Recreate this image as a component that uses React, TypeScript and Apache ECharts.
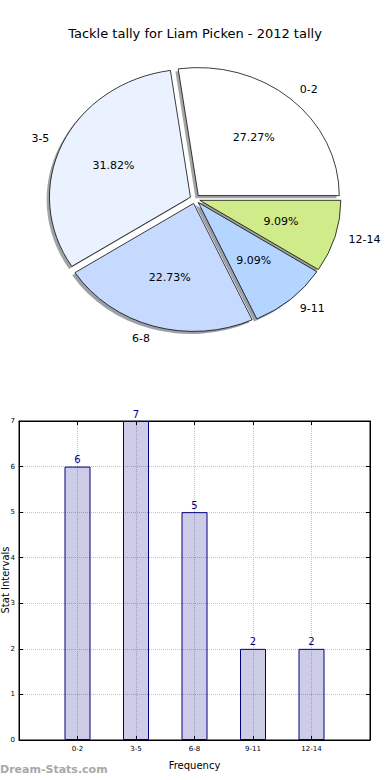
import React, { useEffect, useRef } from "react";
import * as echarts from "echarts";

const categories = ["0-2", "3-5", "6-8", "9-11", "12-14"];
const counts = [6, 7, 5, 2, 2];
const pieColors = ["#ffffff", "#eaf2ff", "#c6d9ff", "#b3d5ff", "#d0eb8a"];
const titleText = "Tackle tally for Liam Picken - 2012 tally";

export default function App() {
  const ref = useRef<HTMLDivElement>(null);
  useEffect(() => {
    document.body.style.margin = "0";
    const chart = echarts.init(ref.current!, null, { renderer: "svg" });
    const total = counts.reduce((a, b) => a + b, 0);
    let acc = 0;
    const pieData = counts.map((v, i) => {
      const s = (acc / total) * 360;
      acc += v;
      const e = (acc / total) * 360;
      return [v, s, e, i];
    });
    const cx = 195, cy = 199, rx = 141, ry = 128, d = 5;
    const shade = (hex: string) => {
      const n = parseInt(hex.slice(1), 16);
      const r = Math.round(((n >> 16) & 255) * 0.3);
      const g = Math.round(((n >> 8) & 255) * 0.3);
      const b = Math.round((n & 255) * 0.3);
      return `rgba(${r},${g},${b},0.5)`;
    };
    const tickStyle = { show: true, inside: true, length: 4, lineStyle: { color: "#000" } };
    const lineStyle = { show: true, onZero: false, lineStyle: { color: "#000" } };
    const gridLine = { show: true, lineStyle: { color: "#c4c4c4", type: "dotted" } };
    const option: any = {
      animation: false,
      textStyle: { fontFamily: "DejaVu Sans" },
      title: {
        text: titleText,
        left: "center",
        top: 22,
        textStyle: { fontSize: 13, fontWeight: "normal", color: "#000", fontFamily: "DejaVu Sans" },
      },
      graphic: [
        {
          type: "text",
          left: 0,
          top: 764,
          style: { text: "Dream-Stats.com", fill: "#a8a8a8", fontSize: 11, fontWeight: "bold", fontFamily: "DejaVu Sans" },
        },
        {
          type: "text",
          x: 5,
          y: 580,
          rotation: Math.PI / 2,
          style: { text: "Stat Intervals", fill: "#000", fontSize: 10, align: "center", verticalAlign: "middle", fontFamily: "DejaVu Sans" },
        },
      ],
      grid: {
        left: 19,
        right: 20,
        top: 421,
        bottom: 40,
        show: true,
        borderColor: "#000",
        borderWidth: 1,
        containLabel: false,
        outerBoundsMode: "none",
      },
      xAxis: [
        {
          type: "value",
          min: -1,
          max: 5,
          interval: 1,
          axisLine: lineStyle,
          axisTick: tickStyle,
          axisLabel: {
            formatter: (v: number) => categories[v] ?? "",
            fontSize: 7,
            color: "#000",
            margin: 5,
          },
          splitLine: gridLine,
          name: "Frequency",
          nameLocation: "middle",
          nameGap: 20,
          nameTextStyle: { fontSize: 10, color: "#000" },
        },
        {
          type: "value",
          position: "top",
          min: -1,
          max: 5,
          interval: 1,
          axisLine: lineStyle,
          axisTick: tickStyle,
          axisLabel: { show: false },
          splitLine: { show: false },
        },
      ],
      yAxis: [
        {
          type: "value",
          min: 0,
          max: 7,
          interval: 1,
          axisLine: lineStyle,
          axisTick: tickStyle,
          axisLabel: { fontSize: 7, color: "#000", margin: 4 },
          splitLine: gridLine,
        },
        {
          type: "value",
          position: "right",
          min: 0,
          max: 7,
          interval: 1,
          axisLine: lineStyle,
          axisTick: tickStyle,
          axisLabel: { show: false },
          splitLine: { show: false },
        },
      ],
      series: [
        {
          type: "bar",
          xAxisIndex: 0,
          yAxisIndex: 0,
          data: counts.map((v, i) => [i, v]),
          barWidth: 26,
          itemStyle: { color: "rgba(0,0,128,0.2)", borderColor: "#000080", borderWidth: 1 },
          label: { show: true, position: "top", color: "#000080", fontSize: 10, distance: 2 },
        },
        {
          type: "custom",
          coordinateSystem: "none",
          data: pieData,
          renderItem: (params: any, api: any) => {
            const i = params.dataIndex;
            const t1 = (api.value(1) * Math.PI) / 180;
            const t2 = (api.value(2) * Math.PI) / 180;
            const tm = (t1 + t2) / 2;
            const ox = d * Math.cos(tm);
            const oy = -d * Math.sin(tm);
            const pcx = cx + ox;
            const pcy = cy + oy * (ry / rx);
            const pct = ((api.value(0) / total) * 100).toFixed(2) + "%";
            const c = Math.cos(tm), s = Math.sin(tm);
            return {
              type: "group",
              children: [
                {
                  type: "group",
                  originX: cx,
                  originY: cy,
                  scaleY: ry / rx,
                  children: [
                    {
                      type: "sector",
                      z2: 0,
                      shape: { cx: cx + ox - 2.8, cy: cy + oy + 2.8, r: rx, r0: 0, startAngle: -t2, endAngle: -t1, clockwise: true },
                      style: { fill: shade(pieColors[i]), stroke: null },
                    },
                    {
                      type: "sector",
                      z2: 10,
                      shape: { cx: cx + ox, cy: cy + oy, r: rx, r0: 0, startAngle: -t2, endAngle: -t1, clockwise: true },
                      style: { fill: pieColors[i], stroke: "#000", lineWidth: 0.8, strokeNoScale: true },
                    },
                  ],
                },
                {
                  type: "text",
                  z2: 20,
                  x: pcx + 0.6 * rx * c,
                  y: pcy - 0.6 * ry * s,
                  style: { text: pct, fontSize: 11, fill: "#000", align: "center", verticalAlign: "middle", fontFamily: "DejaVu Sans" },
                },
                {
                  type: "text",
                  z2: 20,
                  x: pcx + 1.1 * rx * c,
                  y: pcy - 1.1 * ry * s,
                  style: {
                    text: categories[i],
                    fontSize: 11,
                    fill: "#000",
                    align: c > 0 ? "left" : "right",
                    verticalAlign: "middle",
                    fontFamily: "DejaVu Sans",
                  },
                },
              ],
            };
          },
        },
      ],
    };
    chart.setOption(option);
    return () => chart.dispose();
  }, []);
  return <div ref={ref} style={{ width: 390, height: 780 }} />;
}
